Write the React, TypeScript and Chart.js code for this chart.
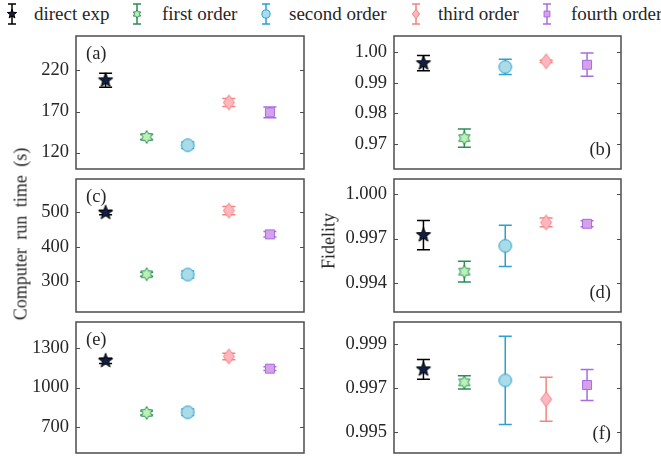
import React, { useEffect, useRef } from "react";
import { Chart, registerables } from "chart.js";
Chart.register(...registerables);

// ---------- data ----------
const methods = ["direct exp", "first order", "second order", "third order", "fourth order"];
const xPositions = [0, 1, 2, 3, 4];

const timeA = [208, 139, 129, 181, 169];
const errA = [8.5, 3, 4, 5, 6.5];
const ticksA = [120, 170, 220];

const fidB = [0.9964, 0.9719, 0.9952, 0.997, 0.9959];
const errB = [0.0025, 0.003, 0.0025, 0.0004, 0.0038];
const ticksB = [0.97, 0.98, 0.99, 1.0];

const timeC = [499, 320, 319, 505, 436];
const errC = [6, 6, 10, 12, 8];
const ticksC = [300, 400, 500];

const fidD = [0.99723, 0.99475, 0.9965, 0.99809, 0.998];
const errD = [0.001, 0.0007, 0.0014, 0.0003, 0.0002];
const ticksD = [0.994, 0.997, 1.0];

const timeE = [1204, 806, 811, 1237, 1144];
const errE = [20, 15, 25, 25, 15];
const ticksE = [700, 1000, 1300];

const fidF = [0.99785, 0.99726, 0.99735, 0.99649, 0.99714];
const errF = [0.00045, 0.0003, 0.002, 0.001, 0.0007];
const ticksF = [0.995, 0.997, 0.999];

// ---------- styles ----------
const edgeColors = ["#000000", "#2e8b57", "#2aa0d4", "#f4837d", "#a66ddf"];
const fillColors = ["#0f1f45", "#b8f2b4", "#a9dce6", "#ffb6c1", "#d6a0ea"];
const markerShapes = ["star", "hexagram", "circle", "diamond", "square"];
const FONT = "Liberation Serif";
const TEXT = "#262626";

function pathMarker(ctx: CanvasRenderingContext2D, shape: string, cx: number, cy: number, s: number) {
  ctx.beginPath();
  if (shape === "star") {
    const R = 7.5 * s, r = 3.1 * s;
    for (let k = 0; k < 10; k++) {
      const a = -Math.PI / 2 + (k * Math.PI) / 5;
      const rr = k % 2 === 0 ? R : r;
      const px = cx + rr * Math.cos(a), py = cy + rr * Math.sin(a);
      k === 0 ? ctx.moveTo(px, py) : ctx.lineTo(px, py);
    }
    ctx.closePath();
  } else if (shape === "hexagram") {
    const R = 6.5 * s, r = R / Math.sqrt(3);
    for (let k = 0; k < 12; k++) {
      const a = -Math.PI / 2 + (k * Math.PI) / 6;
      const rr = k % 2 === 0 ? R : r;
      const px = cx + rr * Math.cos(a), py = cy + rr * Math.sin(a);
      k === 0 ? ctx.moveTo(px, py) : ctx.lineTo(px, py);
    }
    ctx.closePath();
  } else if (shape === "circle") {
    ctx.arc(cx, cy, 6.3 * s, 0, Math.PI * 2);
  } else if (shape === "diamond") {
    ctx.moveTo(cx, cy - 7.5 * s);
    ctx.lineTo(cx + 5.5 * s, cy);
    ctx.lineTo(cx, cy + 7.5 * s);
    ctx.lineTo(cx - 5.5 * s, cy);
    ctx.closePath();
  } else {
    const h = 4.5 * s;
    ctx.rect(cx - h, cy - h, 2 * h, 2 * h);
  }
}

function drawMarker(ctx: CanvasRenderingContext2D, i: number, cx: number, cy: number, s: number) {
  pathMarker(ctx, markerShapes[i], cx, cy, s);
  ctx.fillStyle = fillColors[i];
  ctx.fill();
  ctx.lineWidth = 1;
  ctx.strokeStyle = edgeColors[i];
  ctx.stroke();
}

let markerCache: HTMLCanvasElement[] | null = null;
function getMarkerImages() {
  if (markerCache) return markerCache;
  markerCache = methods.map((_, i) => {
    const c = document.createElement("canvas");
    c.width = 20;
    c.height = 20;
    const ctx = c.getContext("2d")!;
    drawMarker(ctx, i, 10, 10, 1);
    return c;
  });
  return markerCache;
}

const errorBarPlugin = {
  id: "errorBars",
  beforeDatasetsDraw(chart: any) {
    const ctx = chart.ctx;
    const xs = chart.scales.x, ys = chart.scales.y;
    chart.data.datasets.forEach((ds: any) => {
      ds.data.forEach((p: any, j: number) => {
        const e = ds.errors[j];
        const px = xs.getPixelForValue(p.x);
        const top = ys.getPixelForValue(p.y + e);
        const bot = ys.getPixelForValue(p.y - e);
        const cap = 6.5;
        ctx.save();
        ctx.strokeStyle = ds.borderColor;
        ctx.lineWidth = 1.5;
        ctx.beginPath();
        ctx.moveTo(px, top);
        ctx.lineTo(px, bot);
        ctx.moveTo(px - cap, top);
        ctx.lineTo(px + cap, top);
        ctx.moveTo(px - cap, bot);
        ctx.lineTo(px + cap, bot);
        ctx.stroke();
        ctx.restore();
      });
    });
  },
};

function makeFramePlugin(label: string, corner: "tl" | "br") {
  return {
    id: "frame",
    afterDraw(chart: any) {
      const ctx = chart.ctx;
      const a = chart.chartArea;
      const ys = chart.scales.y;
      ctx.save();
      ctx.strokeStyle = "#4d4d4d";
      ctx.lineWidth = 1.5;
      ctx.strokeRect(a.left, a.top, a.right - a.left, a.bottom - a.top);
      ctx.lineWidth = 1;
      ctx.beginPath();
      ys.ticks.forEach((t: any) => {
        const py = Math.round(ys.getPixelForValue(t.value)) + 0.5;
        ctx.moveTo(a.left, py);
        ctx.lineTo(a.left + 4, py);
        ctx.moveTo(a.right, py);
        ctx.lineTo(a.right - 4, py);
      });
      ctx.stroke();
      ctx.fillStyle = TEXT;
      ctx.font = `18.5px ${FONT}`;
      ctx.textBaseline = "middle";
      if (corner === "tl") {
        ctx.textAlign = "left";
        ctx.fillText(label, a.left + 10, a.top + 18);
      } else {
        ctx.textAlign = "right";
        ctx.fillText(label, a.right - 10, a.bottom - 19);
      }
      ctx.restore();
    },
  };
}

type PanelProps = {
  values: number[];
  errors: number[];
  min: number;
  max: number;
  tickValues: number[];
  decimals: number;
  label: string;
  corner: "tl" | "br";
  left: number;
  top: number;
  width: number;
  height: number;
  axisWidth: number;
};

const PAD = 12;

function Panel(p: PanelProps) {
  const ref = useRef<HTMLCanvasElement>(null);
  useEffect(() => {
    const imgs = getMarkerImages();
    const datasets = methods.map((m, i) => ({
      label: m,
      data: [{ x: xPositions[i], y: p.values[i] }],
      errors: [p.errors[i]],
      borderColor: edgeColors[i],
      backgroundColor: fillColors[i],
      pointStyle: imgs[i],
      pointRadius: 7,
      showLine: false,
    }));
    const chart = new Chart(ref.current!, {
      type: "scatter",
      data: { datasets: datasets as any },
      options: {
        animation: false,
        responsive: false,
        devicePixelRatio: 1,
        layout: { padding: { top: PAD, bottom: PAD, left: 0, right: 3 } },
        plugins: { legend: { display: false }, tooltip: { enabled: false } },
        scales: {
          x: { type: "linear", min: -0.72, max: 4.83, display: false },
          y: {
            type: "linear",
            min: p.min,
            max: p.max,
            grid: { display: false, drawTicks: false },
            border: { display: false },
            ticks: {
              font: { family: FONT, size: 18.5 },
              color: TEXT,
              padding: 7,
              callback: (v: any) => Number(v).toFixed(p.decimals),
            },
            afterBuildTicks: (s: any) => {
              s.ticks = p.tickValues.map((v) => ({ value: v }));
            },
            afterFit: (s: any) => {
              s.width = p.axisWidth;
              s.paddingTop = 0;
              s.paddingBottom = 0;
            },
          } as any,
        },
      },
      plugins: [errorBarPlugin, makeFramePlugin(p.label, p.corner)],
    });
    return () => chart.destroy();
  }, []);
  return (
    <canvas
      ref={ref}
      width={p.width}
      height={p.height + 2 * PAD}
      style={{ position: "absolute", left: p.left, top: p.top - PAD, display: "block" }}
    />
  );
}

function LegendMarker({ i }: { i: number }) {
  const ref = useRef<HTMLCanvasElement>(null);
  useEffect(() => {
    const ctx = ref.current!.getContext("2d")!;
    ctx.clearRect(0, 0, 20, 26);
    ctx.strokeStyle = edgeColors[i];
    ctx.lineWidth = 1.5;
    ctx.beginPath();
    ctx.moveTo(10, 3);
    ctx.lineTo(10, 23);
    ctx.moveTo(6, 3);
    ctx.lineTo(14, 3);
    ctx.moveTo(6, 23);
    ctx.lineTo(14, 23);
    ctx.stroke();
    drawMarker(ctx, i, 10, 13, 0.65);
  }, []);
  return <canvas ref={ref} width={20} height={26} style={{ display: "block" }} />;
}

const legendMarkerX = [12, 137, 266, 416, 547];
const legendTextX = [34, 162, 289, 438, 571];

export default function App() {
  const L = { left: 0, width: 312, axisWidth: 76 };
  const R = { left: 330, width: 299, axisWidth: 64 };
  const rows = [
    { top: 36, height: 133 },
    { top: 179, height: 133 },
    { top: 322, height: 131 },
  ];
  const textStyle = { fontFamily: FONT, fontSize: 18, color: TEXT, whiteSpace: "nowrap" as const };
  return (
    <div style={{ position: "absolute", left: 0, top: 0, width: 661, height: 457, background: "#fff", overflow: "hidden" }}>
      {methods.map((m, i) => (
        <React.Fragment key={m}>
          <div style={{ position: "absolute", left: legendMarkerX[i] - 10, top: 1 }}>
            <LegendMarker i={i} />
          </div>
          <div style={{ ...textStyle, position: "absolute", left: legendTextX[i], top: 3, fontSize: 19, lineHeight: "22px" }}>
            {m}
          </div>
        </React.Fragment>
      ))}
      <Panel values={timeA} errors={errA} min={100} max={262} tickValues={ticksA} decimals={0} label="(a)" corner="tl" {...L} {...rows[0]} />
      <Panel values={fidB} errors={errB} min={0.9618} max={1.0053} tickValues={ticksB} decimals={2} label="(b)" corner="br" {...R} {...rows[0]} />
      <Panel values={timeC} errors={errC} min={210} max={597} tickValues={ticksC} decimals={0} label="(c)" corner="tl" {...L} {...rows[1]} />
      <Panel values={fidD} errors={errD} min={0.99201} max={1.00104} tickValues={ticksD} decimals={3} label="(d)" corner="br" {...R} {...rows[1]} />
      <Panel values={timeE} errors={errE} min={500} max={1500} tickValues={ticksE} decimals={0} label="(e)" corner="tl" {...L} {...rows[2]} />
      <Panel values={fidF} errors={errF} min={0.99405} max={1.0} tickValues={ticksF} decimals={3} label="(f)" corner="br" {...R} {...rows[2]} />
      <div style={{ ...textStyle, position: "absolute", left: 21, top: 234, wordSpacing: 4, transform: "translate(-50%, -50%) rotate(-90deg)" }}>
        Computer run time (s)
      </div>
      <div style={{ ...textStyle, position: "absolute", left: 329, top: 241, transform: "translate(-50%, -50%) rotate(-90deg)" }}>
        Fidelity
      </div>
    </div>
  );
}
